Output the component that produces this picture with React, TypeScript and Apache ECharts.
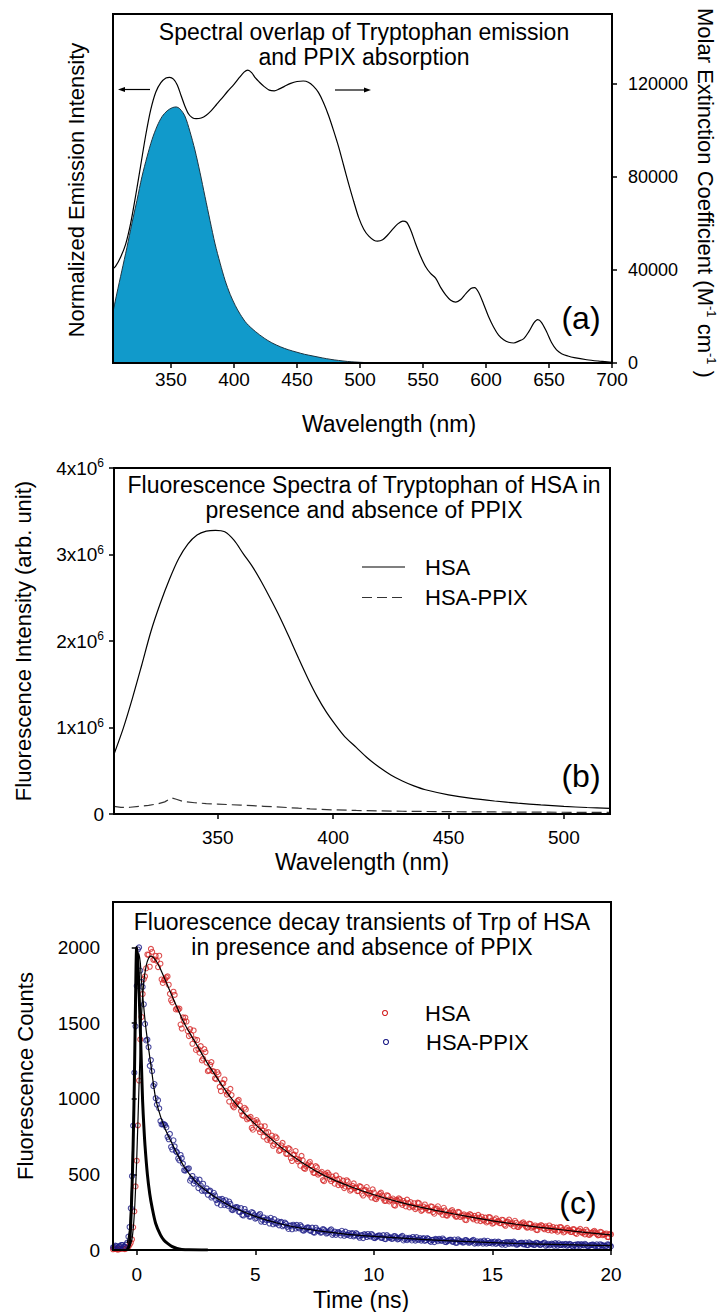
import React, { useEffect, useRef } from "react";
import * as echarts from "echarts";

const FONT = "'Liberation Sans', Arial, Helvetica, sans-serif";

// ---------- (a) Spectral overlap ----------
const overlapTicks = [350, 400, 450, 500, 550, 600, 650, 700];
const extinctionTicks = [0, 40000, 80000, 120000];
// PPIX molar extinction coefficient [nm, M^-1 cm^-1]
const ppixAbsorption: [number, number][] = [
  [304, 40500], [306, 41500], [310, 45500], [314, 51000], [318, 60000], [322, 72000],
  [326, 85000], [330, 98000], [334, 109000], [338, 116500], [342, 120500], [346, 122500],
  [349, 122800], [352, 122000], [355, 119500], [358, 115000], [361, 110500], [364, 107000],
  [367, 105400], [370, 105000], [374, 105300], [378, 106500], [382, 108500], [386, 111000],
  [390, 113500], [395, 116800], [400, 119800], [404, 122500], [408, 125000], [411, 125900],
  [414, 124800], [417, 122500], [420, 120800], [424, 118800], [428, 117300], [432, 117000],
  [436, 117800], [440, 118900], [445, 120200], [450, 121000], [455, 121200], [459, 120700],
  [463, 119000], [467, 116300], [471, 112000], [475, 106500], [479, 100000], [483, 93000],
  [487, 85000], [491, 77000], [495, 69500], [499, 62500], [503, 57500], [507, 54500],
  [511, 52800], [514, 52400], [518, 53000], [522, 55000], [526, 57500], [530, 59800],
  [534, 61000], [537, 60500], [540, 57500], [544, 51500], [548, 46000], [552, 41500],
  [556, 38500], [560, 36500], [564, 32500], [568, 29300], [572, 27000], [576, 26200],
  [580, 27300], [584, 29800], [588, 32000], [591, 32400], [594, 30500], [598, 25500],
  [602, 20000], [606, 15500], [610, 12000], [614, 10000], [618, 8900], [622, 8600],
  [626, 9400], [630, 10500], [634, 13500], [638, 17200], [641, 18600], [644, 17500],
  [648, 13500], [652, 8800], [656, 5600], [660, 4000], [665, 3000], [670, 2300],
  [680, 1400], [690, 800], [700, 300],
];
// Tryptophan emission, normalised to its maximum [nm, I/Imax]
const trpEmission: [number, number][] = [
  [304, 0.2], [307, 0.27], [311, 0.36], [315, 0.45], [319, 0.545], [323, 0.635],
  [327, 0.728], [331, 0.805], [335, 0.873], [339, 0.925], [343, 0.963], [347, 0.985],
  [351, 0.997], [354, 1.0], [357, 0.993], [361, 0.965], [365, 0.905], [369, 0.832],
  [373, 0.745], [377, 0.65], [381, 0.556], [385, 0.465], [389, 0.39], [393, 0.322],
  [397, 0.268], [401, 0.225], [405, 0.19], [410, 0.155], [417, 0.123], [424, 0.097],
  [430, 0.079], [437, 0.063], [443, 0.052], [450, 0.042], [456, 0.034], [462, 0.028],
  [470, 0.02], [477, 0.014], [483, 0.01], [490, 0.006], [496, 0.004], [503, 0.002], [512, 0],
];

// ---------- (b) Steady-state fluorescence ----------
const spectraTicks = [350, 400, 450, 500];
const intensityTicks = [0, 1e6, 2e6, 3e6, 4e6];
const hsaSpectrum: [number, number][] = [
  [305, 690000], [309, 990000], [313, 1340000], [317, 1720000], [321, 2110000], [325, 2430000],
  [329, 2710000], [333, 2950000], [337, 3120000], [341, 3225000], [345, 3270000], [349, 3280000],
  [353, 3262000], [357, 3165000], [361, 3010000], [365, 2860000], [369, 2680000], [373, 2480000],
  [377, 2270000], [381, 2040000], [385, 1800000], [389, 1570000], [393, 1360000], [397, 1180000],
  [401, 1030000], [405, 895000], [410, 770000], [415, 645000], [420, 540000], [425, 452000],
  [430, 382000], [435, 325000], [440, 280000], [450, 222000], [460, 180000], [470, 150000],
  [480, 125000], [490, 105000], [500, 88000], [510, 75000], [520, 65000],
];
const hsaPpixSpectrum: [number, number][] = [
  [305, 88000], [308, 76000], [312, 78000], [316, 88000], [320, 100000], [324, 118000],
  [327, 140000], [330, 185000], [332, 170000], [335, 145000], [340, 130000], [345, 121000],
  [350, 115000], [355, 108000], [360, 102000], [365, 96000], [370, 89000], [375, 82000],
  [380, 75000], [385, 67000], [390, 60000], [395, 54000], [400, 48000], [410, 41000],
  [420, 36000], [430, 32000], [440, 29000], [450, 27000], [460, 25000], [470, 23500],
  [480, 22000], [490, 21000], [500, 20000], [510, 19500], [520, 19000],
];

// ---------- (c) Time-resolved decays ----------
const timeTicks = [0, 5, 10, 15, 20];
const countTicks = [0, 500, 1000, 1500, 2000];
// TCSPC calibration: first channel at -1.0 ns, 0.05 ns per channel.
// Counts are stored as even channels (-1.00, -0.90, ...) and odd channels (-0.95, -0.85, ...).
const CHANNEL_START = -1.0;
const CHANNEL_WIDTH = 0.05;
const hsaCountsEven = [
  5, 9, 3, 8, 12, 6, 15, 34, 70, 255,
  590, 1120, 1540, 1790, 1862, 1951, 1990, 1918, 1944, 1870,
  1892, 1765, 1790, 1808, 1693, 1637, 1686, 1597, 1595, 1464,
  1511, 1510, 1414, 1421, 1451, 1322, 1327, 1347, 1265, 1308,
  1182, 1223, 1182, 1134, 1176, 1078, 1103, 1127, 1027, 981,
  1024, 943, 970, 992, 918, 886, 929, 873, 880, 795,
  838, 843, 779, 790, 818, 728, 737, 756, 700, 740,
  655, 691, 666, 636, 673, 607, 630, 654, 586, 557,
  593, 536, 562, 583, 530, 509, 546, 507, 517, 455,
  491, 499, 455, 467, 493, 429, 440, 458, 420, 453,
  392, 424, 409, 389, 422, 372, 395, 416, 366, 347,
  380, 336, 360, 379, 340, 325, 358, 329, 340, 293,
  325, 334, 298, 311, 333, 282, 292, 309, 280, 309,
  259, 287, 276, 261, 289, 250, 270, 289, 248, 233,
  262, 227, 247, 264, 232, 221, 249, 226, 235, 197,
  224, 231, 203, 213, 232, 191, 200, 214, 189, 215,
  174, 198, 188, 177, 200, 168, 184, 201, 168, 156,
  180, 152, 169, 183, 157, 149, 172, 153, 162, 131,
  154, 160, 137, 146, 162, 128, 135, 148, 129, 149,
  116, 136, 129, 119, 138, 112, 126, 140, 112, 103,
  123, 100, 114, 127, 105, 99, 117, 103, 109, 85,
  103,
];
const hsaCountsOdd = [
  7, 6, 5, 9, 8, 10, 22, 48, 150, 420,
  824, 1392, 1692, 1808, 1953, 1872, 1971, 1921, 1911, 1945,
  1788, 1784, 1802, 1753, 1651, 1707, 1590, 1588, 1490, 1537,
  1536, 1447, 1460, 1363, 1392, 1388, 1304, 1253, 1328, 1238,
  1187, 1242, 1180, 1129, 1161, 1050, 1101, 1052, 1039, 1065,
  953, 961, 984, 956, 892, 940, 864, 870, 807, 852,
  859, 800, 817, 749, 777, 779, 722, 689, 750, 692,
  661, 708, 668, 635, 666, 588, 631, 602, 597, 622,
  541, 553, 573, 558, 511, 554, 498, 508, 462, 501,
  511, 468, 485, 438, 465, 470, 429, 409, 461, 419,
  399, 440, 412, 390, 417, 360, 398, 376, 377, 401,
  339, 350, 371, 360, 325, 362, 321, 331, 297, 331,
  341, 309, 324, 288, 310, 316, 285, 270, 313, 281,
  265, 301, 279, 262, 286, 240, 273, 256, 257, 279,
  229, 240, 256, 249, 221, 252, 218, 228, 200, 229,
  237, 212, 225, 195, 214, 220, 194, 182, 218, 191,
  180, 209, 191, 178, 198, 160, 187, 175, 177, 193,
  153, 162, 177, 171, 148, 174, 147, 155, 133, 157,
  165, 143, 156, 131, 147, 152, 131, 121, 152, 131,
  121, 146, 131, 120, 136, 106, 129, 118, 120, 134,
  101, 109, 122, 116, 97, 120, 98, 104, 86, 106,
];
const hsaPpixCountsEven = [
  18, 29, 16, 26, 33, 21, 48, 152, 488, 1172,
  1745, 2000, 1772, 1624, 1385, 1341, 1255, 1084, 1003, 990,
  852, 831, 825, 748, 767, 664, 685, 645, 592, 607,
  527, 533, 540, 471, 439, 467, 409, 426, 438, 387,
  365, 392, 356, 361, 309, 335, 338, 296, 303, 320,
  267, 273, 284, 253, 277, 228, 252, 238, 221, 245,
  207, 223, 238, 200, 185, 208, 175, 191, 204, 174,
  163, 186, 165, 173, 139, 162, 167, 142, 150, 164,
  129, 136, 149, 128, 148, 115, 135, 126, 116, 135,
  109, 122, 136, 110, 100, 119, 96, 110, 121, 100,
  93, 112, 98, 104, 81, 99, 105, 86, 93, 106,
  80, 86, 96, 81, 98, 72, 89, 83, 76, 91,
  70, 82, 93, 72, 65, 81, 63, 75, 85, 68,
  62, 78, 66, 73, 53, 68, 73, 58, 65, 76,
  53, 59, 68, 55, 69, 48, 62, 57, 51, 65,
  48, 57, 67, 49, 44, 58, 42, 52, 61, 47,
  43, 56, 47, 51, 35, 48, 53, 40, 45, 55,
  36, 41, 48, 38, 49, 32, 43, 40, 36, 46,
  33, 40, 49, 34, 30, 42, 28, 37, 44, 33,
  30, 40, 33, 37, 23, 35, 39, 27, 33, 41,
  26, 29, 36, 28, 37, 22, 33, 30, 25, 36,
  24,
];
const hsaPpixCountsOdd = [
  20, 25, 24, 33, 22, 35, 88, 276, 822, 1478,
  1986, 1847, 1739, 1494, 1390, 1217, 1182, 1097, 961, 936,
  830, 832, 810, 732, 681, 725, 653, 605, 628, 571,
  525, 537, 458, 489, 456, 447, 465, 391, 394, 407,
  389, 347, 378, 330, 335, 296, 324, 329, 292, 304,
  264, 281, 282, 250, 232, 271, 238, 221, 251, 230,
  213, 231, 188, 215, 199, 198, 213, 170, 177, 189,
  182, 157, 181, 153, 160, 137, 160, 166, 143, 154,
  128, 144, 148, 127, 117, 147, 126, 115, 138, 124,
  114, 130, 100, 121, 111, 112, 127, 94, 101, 112,
  108, 90, 111, 90, 96, 79, 99, 106, 89, 98,
  79, 92, 96, 80, 73, 98, 81, 73, 92, 82,
  74, 87, 63, 81, 73, 75, 86, 62, 68, 78,
  74, 60, 78, 60, 66, 52, 68, 73, 60, 68,
  52, 63, 68, 54, 48, 70, 56, 49, 65, 57,
  50, 62, 42, 57, 51, 52, 62, 42, 46, 54,
  52, 41, 55, 42, 46, 34, 48, 53, 42, 48,
  36, 45, 48, 37, 33, 50, 39, 33, 48, 40,
  35, 45, 28, 41, 36, 37, 45, 28, 33, 39,
  37, 28, 40, 28, 33, 23, 35, 39, 30, 35,
  25, 33, 35, 27, 23, 38, 28, 24, 37, 31,
];
// Fitted decays [ns, counts]
const hsaFit: [number, number][] = [
  [-0.3, 25], [-0.2, 70], [-0.1, 240], [0, 600], [0.1, 1100], [0.2, 1545], [0.3, 1775],
  [0.4, 1880], [0.5, 1928], [0.6, 1942], [0.8, 1915], [1, 1858], [1.5, 1675], [2, 1500],
  [2.5, 1364], [3, 1230], [4, 1000], [5, 830], [6, 690], [7, 575], [8, 485], [9, 420],
  [10, 365], [11, 320], [12, 282], [13, 250], [14, 220], [15, 193], [16, 170], [17, 150],
  [18, 132], [19, 115], [20, 100],
];
const hsaPpixFit: [number, number][] = [
  [-0.4, 45], [-0.3, 140], [-0.2, 500], [-0.1, 1150], [0, 1760], [0.08, 1960], [0.15, 1900],
  [0.2, 1780], [0.3, 1600], [0.4, 1450], [0.6, 1220], [0.8, 1000], [1, 885], [1.2, 800],
  [1.5, 700], [2, 550], [2.5, 450], [3, 383], [3.5, 330], [4, 286], [5, 222], [6, 175],
  [7, 142], [8, 120], [9, 102], [10, 90], [12, 70], [14, 55], [16, 43], [18, 35], [20, 29],
];
// Instrument response function
const irf: [number, number][] = [
  [-0.4, 0], [-0.3, 40], [-0.2, 400], [-0.15, 700], [-0.1, 1100], [-0.05, 1650], [0, 2000],
  [0.05, 1900], [0.1, 1700], [0.15, 1470], [0.2, 1220], [0.25, 980], [0.3, 820], [0.35, 690],
  [0.45, 500], [0.55, 370], [0.65, 280], [0.8, 175], [1, 100], [1.15, 65], [1.3, 44],
  [1.5, 22], [1.7, 10], [1.9, 4], [2.2, 1], [3, 0],
];

const channelTime = (ch: number) =>
  Math.round((CHANNEL_START + ch * CHANNEL_WIDTH) * 100) / 100;
const toDecay = (even: number[], odd: number[]) => [
  ...even.map((c, i) => [channelTime(2 * i), c]),
  ...odd.map((c, i) => [channelTime(2 * i + 1), c]),
];

// ---------- layout ----------
const PANEL_A = { left: 113, top: 14, width: 499, height: 349 };
const PANEL_B = { left: 114, top: 468, width: 496, height: 346 };
const PANEL_C = { left: 113, top: 902, width: 498, height: 348 };

const RED = "#d42424";
const NAVY = "#1c1c86";
const FILL = "#119acb";

function text(
  str: string,
  x: number,
  y: number,
  size: number,
  extra: Record<string, any> = {}
) {
  return {
    type: "text",
    x,
    y,
    z: 100,
    rotation: extra.rotation || 0,
    style: {
      text: str,
      fill: "#000",
      font: `${size}px ${FONT}`,
      align: extra.align || "center",
      textAlign: extra.align || "center",
      verticalAlign: "middle",
      textVerticalAlign: "middle",
      lineHeight: extra.lineHeight,
    },
  };
}

function frame(p: { left: number; top: number; width: number; height: number }) {
  return {
    type: "rect",
    z: 100,
    shape: { x: p.left, y: p.top, width: p.width, height: p.height },
    style: { fill: "none", stroke: "#000", lineWidth: 2 },
  };
}

const tickStyle = { color: "#000", width: 1.5 };

function valueAxis(
  gridIndex: number,
  min: number,
  max: number,
  ticks: number[],
  margin: number,
  fontSize: number,
  extra: Record<string, any> = {}
) {
  return {
    type: "value",
    gridIndex,
    min,
    max,
    axisLine: { show: false },
    splitLine: { show: false },
    axisTick: { show: true, customValues: ticks, length: 5, lineStyle: tickStyle },
    axisLabel: {
      customValues: ticks,
      margin,
      fontSize,
      fontFamily: FONT,
      color: "#000",
      formatter: (v: number) => String(v),
      ...(extra.axisLabel || {}),
    },
    ...(extra.axis || {}),
  };
}

const superRich = {
  n: { fontSize: 19, fontFamily: FONT, color: "#000", lineHeight: 22 },
  s: { fontSize: 12, fontFamily: FONT, color: "#000", lineHeight: 12, verticalAlign: "top" },
};

export default function App() {
  const ref = useRef<HTMLDivElement>(null);

  useEffect(() => {
    if (!ref.current) return;
    const chart = echarts.init(ref.current, undefined, { renderer: "svg" });

    const option: any = {
      animation: false,
      backgroundColor: "#fff",
      grid: [
        { ...PANEL_A, show: false },
        { ...PANEL_B, show: false },
        { ...PANEL_C, show: false },
      ],
      xAxis: [
        valueAxis(0, 304, 700, overlapTicks, 7, 19),
        valueAxis(1, 305, 520, spectraTicks, 14, 19),
        valueAxis(2, -1, 20, timeTicks, 15, 19),
      ],
      yAxis: [
        { type: "value", gridIndex: 0, min: 0, max: 1.363, show: false },
        valueAxis(0, 0, 150000, extinctionTicks, 16, 18, { axis: { position: "right" } }),
        valueAxis(1, 0, 4e6, intensityTicks, 10, 19, {
          axisLabel: {
            formatter: (v: number) => (v === 0 ? "{n|0}" : `{n|${v / 1e6}x10}{s|6}`),
            rich: superRich,
          },
        }),
        valueAxis(2, 0, 2300, countTicks, 13, 19),
      ],
      series: [
        {
          name: "Tryptophan emission",
          type: "line",
          xAxisIndex: 0,
          yAxisIndex: 0,
          data: trpEmission,
          smooth: 0.3,
          symbol: "none",
          lineStyle: { color: "#1d3440", width: 1 },
          areaStyle: { color: FILL, opacity: 1 },
          z: 2,
        },
        {
          name: "PPIX absorption",
          type: "line",
          xAxisIndex: 0,
          yAxisIndex: 1,
          data: ppixAbsorption,
          smooth: 0.3,
          symbol: "none",
          lineStyle: { color: "#000", width: 1.2 },
          z: 3,
        },
        {
          name: "HSA",
          type: "line",
          xAxisIndex: 1,
          yAxisIndex: 2,
          data: hsaSpectrum,
          smooth: 0.3,
          symbol: "none",
          lineStyle: { color: "#000", width: 1.2 },
        },
        {
          name: "HSA-PPIX",
          type: "line",
          xAxisIndex: 1,
          yAxisIndex: 2,
          data: hsaPpixSpectrum,
          symbol: "none",
          lineStyle: { color: "#333", width: 1.2, type: [10, 5] },
        },
        {
          name: "HSA decay",
          type: "scatter",
          xAxisIndex: 2,
          yAxisIndex: 3,
          data: toDecay(hsaCountsEven, hsaCountsOdd),
          symbol: "circle",
          symbolSize: 5,
          itemStyle: { color: "rgba(0,0,0,0)", borderColor: RED, borderWidth: 1.1 },
          z: 2,
        },
        {
          name: "HSA-PPIX decay",
          type: "scatter",
          xAxisIndex: 2,
          yAxisIndex: 3,
          data: toDecay(hsaPpixCountsEven, hsaPpixCountsOdd),
          symbol: "circle",
          symbolSize: 5,
          itemStyle: { color: "rgba(0,0,0,0)", borderColor: NAVY, borderWidth: 1.1 },
          z: 3,
        },
        {
          name: "HSA fit",
          type: "line",
          xAxisIndex: 2,
          yAxisIndex: 3,
          data: hsaFit,
          smooth: 0.3,
          symbol: "none",
          lineStyle: { color: "#000", width: 1.2 },
          z: 4,
        },
        {
          name: "HSA-PPIX fit",
          type: "line",
          xAxisIndex: 2,
          yAxisIndex: 3,
          data: hsaPpixFit,
          smooth: 0.3,
          symbol: "none",
          lineStyle: { color: "#000", width: 1.2 },
          z: 4,
        },
        {
          name: "IRF",
          type: "line",
          xAxisIndex: 2,
          yAxisIndex: 3,
          data: irf,
          smooth: 0.3,
          symbol: "none",
          lineStyle: { color: "#000", width: 3 },
          z: 5,
        },
      ],
      graphic: [
        frame(PANEL_A),
        frame(PANEL_B),
        frame(PANEL_C),

        // (a)
        text("Spectral overlap of Tryptophan emission\nand PPIX absorption", 364, 44, 23, {
          lineHeight: 25,
        }),
        text("(a)", 581, 318, 32),
        text("Normalized Emission Intensity", 76, 190, 22, { rotation: Math.PI / 2 }),
        text("Wavelength (nm)", 389, 424, 23),
        {
          type: "text",
          x: 705,
          y: 193,
          z: 100,
          rotation: -Math.PI / 2,
          style: {
            text: "{t|Molar Extinction Coefficient (M}{s|-1}{t| cm}{s|-1}{t| )}",
            align: "center",
            textAlign: "center",
            verticalAlign: "middle",
            textVerticalAlign: "middle",
            rich: {
              t: { fontSize: 22, fontFamily: FONT, fill: "#000", color: "#000", lineHeight: 26 },
              s: {
                fontSize: 13,
                fontFamily: FONT,
                fill: "#000",
                color: "#000",
                lineHeight: 13,
                verticalAlign: "top",
              },
            },
          },
        },
        {
          type: "line",
          z: 100,
          shape: { x1: 150, y1: 89.5, x2: 123, y2: 89.5 },
          style: { stroke: "#000", lineWidth: 1.2 },
        },
        {
          type: "polygon",
          z: 100,
          shape: { points: [[118, 89.5], [125, 87], [125, 92]] },
          style: { fill: "#000" },
        },
        {
          type: "line",
          z: 100,
          shape: { x1: 335, y1: 90, x2: 365, y2: 90 },
          style: { stroke: "#000", lineWidth: 1.2 },
        },
        {
          type: "polygon",
          z: 100,
          shape: { points: [[371, 90], [364, 87.5], [364, 92.5]] },
          style: { fill: "#000" },
        },

        // (b)
        text("Fluorescence Spectra of Tryptophan of HSA in\npresence and absence of PPIX", 364, 497, 23, {
          lineHeight: 25,
        }),
        text("(b)", 581, 776, 32),
        text("Fluorescence Intensity (arb. unit)", 23, 641, 22, { rotation: Math.PI / 2 }),
        text("Wavelength (nm)", 362, 862, 23),
        {
          type: "line",
          z: 100,
          shape: { x1: 362, y1: 567, x2: 405, y2: 567 },
          style: { stroke: "#000", lineWidth: 1.2 },
        },
        text("HSA", 425, 567, 22, { align: "left" }),
        {
          type: "line",
          z: 100,
          shape: { x1: 362, y1: 597.5, x2: 405, y2: 597.5 },
          style: { stroke: "#333", lineWidth: 1.2, lineDash: [10, 5] },
        },
        text("HSA-PPIX", 425, 597.5, 22, { align: "left" }),

        // (c)
        text("Fluorescence decay transients of Trp of HSA\nin presence and absence of PPIX", 362, 934, 23, {
          lineHeight: 25,
        }),
        text("(c)", 578, 1203, 32),
        text("Fluorescence Counts", 25, 1076, 22, { rotation: Math.PI / 2 }),
        text("Time (ns)", 361, 1300, 23),
        {
          type: "circle",
          z: 100,
          shape: { cx: 385, cy: 1013, r: 2.5 },
          style: { fill: "none", stroke: RED, lineWidth: 1.1 },
        },
        text("HSA", 425, 1013, 22, { align: "left" }),
        {
          type: "circle",
          z: 100,
          shape: { cx: 386, cy: 1042, r: 2.5 },
          style: { fill: "none", stroke: NAVY, lineWidth: 1.1 },
        },
        text("HSA-PPIX", 426, 1042, 22, { align: "left" }),
      ],
    };

    chart.setOption(option);
    return () => chart.dispose();
  }, []);

  return (
    <div
      ref={ref}
      style={{ position: "absolute", left: 0, top: 0, width: 722, height: 1312, background: "#fff" }}
    />
  );
}
